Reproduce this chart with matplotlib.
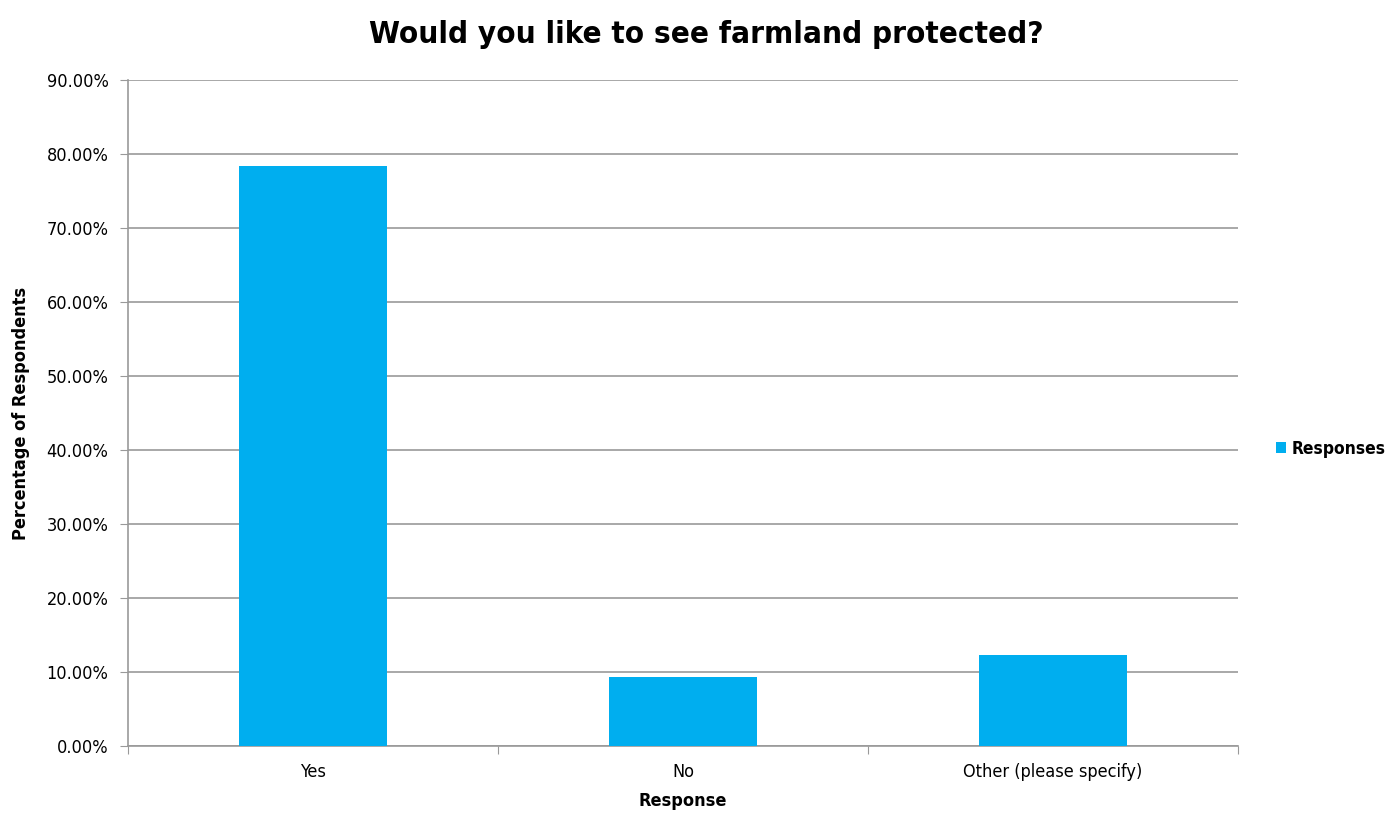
import matplotlib.pyplot as plt
from matplotlib.ticker import FuncFormatter

plt.rcParams['font.family'] = ['DejaVu Sans']
plt.rcParams['font.stretch'] = 'condensed'

categories = ['Yes', 'No', 'Other (please specify)']
responses = [78.43, 9.26, 12.31]

fig = plt.figure(figsize=(13.91, 8.13), dpi=100)
ax = fig.add_axes([0.092, 0.0824, 0.798, 0.8192])

x = range(len(categories))
ax.bar(x, responses, width=0.4, color='#00AEEF', label='Responses', zorder=3)

ax.set_xlim(-0.5, 2.5)
ax.set_ylim(0, 90)
ax.set_yticks(range(0, 91, 10))
ax.yaxis.set_major_formatter(FuncFormatter(lambda v, p: '%.2f%%' % v))
ax.set_xticks([-0.5, 0.5, 1.5, 2.5])
ax.set_xticklabels([])
ax.set_xticks(list(x), minor=True)
ax.set_xticklabels(categories, minor=True)
ax.tick_params(axis='x', which='minor', length=0, pad=12, labelsize=13)
ax.tick_params(axis='x', which='major', length=6, color='#999999')
ax.tick_params(axis='y', length=6, color='#999999', labelsize=13, pad=8)

ax.grid(axis='y', color='#999999', linewidth=1.2, zorder=0)
for s in ['top', 'right']:
    ax.spines[s].set_visible(False)
for s in ['left', 'bottom']:
    ax.spines[s].set_color('#999999')
    ax.spines[s].set_linewidth(1.2)

ax.set_xlabel('Response', fontsize=13, fontweight='bold', labelpad=8)
ax.set_ylabel('Percentage of Respondents', fontsize=13, fontweight='bold', labelpad=12)

fig.text(0.5076, 0.958, 'Would you like to see farmland protected?', ha='center', va='center',
         fontsize=22.5, fontweight='bold')

ax.legend(loc='center left', bbox_to_anchor=(1.028, 0.446), frameon=False,
          handlelength=0.6, handleheight=0.6, handletextpad=0.3, borderaxespad=0,
          prop={'weight': 'bold', 'size': 12.5})

fig.savefig('out.png', dpi=100)
